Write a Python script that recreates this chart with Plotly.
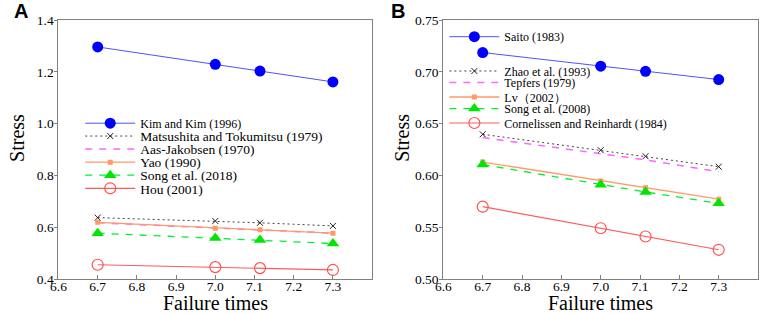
import plotly.graph_objects as go

# ---------------- data ----------------
x_fail = [6.7, 7.0, 7.114, 7.3]

# Panel A
names_a = ["Kim and Kim (1996)", "Matsushita and Tokumitsu (1979)", "Aas-Jakobsen (1970)",
           "Yao (1990)", "Song et al. (2018)", "Hou (2001)"]
kim = [1.296, 1.229, 1.203, 1.161]
matsushita = [0.637, 0.624, 0.617, 0.605]
aas = [0.617, 0.597, 0.589, 0.577]
yao = [0.619, 0.596, 0.590, 0.577]
song2018 = [0.577, 0.558, 0.551, 0.537]
hou = [0.455, 0.446, 0.442, 0.435]
vals_a = [kim, matsushita, aas, yao, song2018, hou]

# Panel B
names_b = ["Saito (1983)", "Zhao et al. (1993)", "Tepfers (1979)", "Lv\uff082002\uff09",
           "Song et al. (2008)", "Cornelissen and Reinhardt (1984)"]
saito = [0.7186, 0.7054, 0.7005, 0.6925]
zhao = [0.6397, 0.6243, 0.6185, 0.6084]
tepfers = [0.6365, 0.6210, 0.6150, 0.6035]
lv = [0.6129, 0.5946, 0.5880, 0.5770]
song2008 = [0.6105, 0.5910, 0.5840, 0.5730]
cornelissen = [0.5698, 0.5490, 0.5410, 0.5282]
vals_b = [saito, zhao, tepfers, lv, song2008, cornelissen]

xticks = [6.6, 6.7, 6.8, 6.9, 7.0, 7.1, 7.2, 7.3]
yticks_a = [0.4, 0.6, 0.8, 1.0, 1.2, 1.4]
yticks_b = [0.50, 0.55, 0.60, 0.65, 0.70, 0.75]

# ---------------- styles ----------------
styles = [
    dict(mode="lines+markers", line=dict(color="#5050ff", width=1),
         marker=dict(symbol="circle", size=11, color="#0000ff")),
    dict(mode="lines+markers", line=dict(color="#444444", width=1, dash="2px,3px"),
         marker=dict(symbol="x-thin", size=6, color="#222222", line=dict(width=1, color="#222222"))),
    dict(mode="lines", line=dict(color="#ff66ff", width=1.5, dash="7px,7px")),
    dict(mode="lines+markers", line=dict(color="#ff9a66", width=1.3),
         marker=dict(symbol="square", size=5, color="#ff9a66")),
    dict(mode="lines+markers", line=dict(color="#00ee33", width=1.3, dash="7px,7px"),
         marker=dict(symbol="triangle-up", size=11, color="#00e600")),
    dict(mode="lines+markers", line=dict(color="#ff5a5a", width=1.2),
         marker=dict(symbol="circle-open", size=11, color="#ff5050", line=dict(width=1.2))),
]

W, H = 761, 314
T, B = 20, 35
PH = H - T - B

fig = go.Figure()

legend_layouts = {}
leg_idx = 0

def add_panel(names, vals, xa, ya, leg_x, leg_rows, sizes, dy):
    global leg_idx
    for i, (nm, v) in enumerate(zip(names, vals)):
        leg_idx += 1
        lname = "legend" if leg_idx == 1 else f"legend{leg_idx}"
        fig.add_trace(go.Scatter(x=x_fail, y=v, name=nm, xaxis=xa, yaxis=ya,
                                 legend=lname, showlegend=True, **styles[i]))
        legend_layouts[lname] = dict(
            x=leg_x / W, xanchor="left",
            y=(H - B - leg_rows[i] + dy) / PH, yanchor="middle",
            bgcolor="rgba(0,0,0,0)", borderwidth=0, visible=True,
            font=dict(family="Liberation Serif", size=sizes[i], color="black"),
            itemwidth=50, tracegroupgap=0,
        )

rows_a = [124.7 + 13.06 * k for k in range(6)]
rows_b = [36.7, 71.0, 82.6, 97.0, 108.6, 123.0]
add_panel(names_a, vals_a, "x", "y", 73, rows_a, [12, 13.5, 13.5, 13.5, 13.5, 13.5], 1.5)
add_panel(names_b, vals_b, "x2", "y2", 441, rows_b, [12] * 6, 0)

axis_common = dict(showline=True, linecolor="#808080", linewidth=1.2, mirror=True,
                   showgrid=False, zeroline=False,
                   tickfont=dict(family="Liberation Serif", size=13.5, color="black"))

xaxis_common = dict(axis_common, range=[6.6, 7.4], tickvals=xticks,
                    ticktext=[f"{t:.1f}" for t in xticks],
                    ticks="inside", ticklen=4, tickcolor="#808080",
                    ticklabelstandoff=-5)

fig.update_layout(
    width=W, height=H,
    showlegend=True,
    margin=dict(l=0, r=0, t=T, b=B),
    paper_bgcolor="white", plot_bgcolor="white",
    xaxis=dict(xaxis_common, domain=[51 / W, 368 / W], anchor="y"),
    yaxis=dict(axis_common, domain=[0, 1], anchor="x", range=[0.4, 1.4],
               tickvals=yticks_a, ticktext=[f"{t:.1f}" for t in yticks_a],
               ticks="outside", ticklen=3, tickcolor="#808080", ticklabelstandoff=-2),
    xaxis2=dict(xaxis_common, domain=[440 / W, 758 / W], anchor="y2"),
    yaxis2=dict(axis_common, domain=[0, 1], anchor="x2", range=[0.5, 0.75],
                tickvals=yticks_b, ticktext=[f"{t:.2f}" for t in yticks_b],
                ticks="outside", ticklen=3, tickcolor="#808080", ticklabelstandoff=-2),
    **legend_layouts,
)

title_font = dict(family="Liberation Serif", size=20, color="black")
label_font = dict(family="Liberation Sans", size=20, color="black")
for xc in [(51 + 368) / 2, (440 + 758) / 2]:
    fig.add_annotation(xref="paper", yref="paper", showarrow=False, font=title_font,
                       text="Failure times", x=xc / W, y=-(303 - (H - B)) / PH,
                       xanchor="center", yanchor="middle")
for xc in [9, 398]:
    fig.add_annotation(xref="paper", yref="paper", showarrow=False, font=title_font,
                       text="Stress", textangle=-90, x=xc / W, y=(H - B - 138) / PH,
                       xanchor="center", yanchor="middle")
fig.add_annotation(xref="paper", yref="paper", showarrow=False, font=label_font,
                   text="<b>A</b>", x=13 / W, y=(H - B - 11) / PH, xanchor="center", yanchor="middle")
fig.add_annotation(xref="paper", yref="paper", showarrow=False, font=label_font,
                   text="<b>B</b>", x=394 / W, y=(H - B - 11) / PH, xanchor="center", yanchor="middle")

fig.write_html("out.html", config={"displayModeBar": False},
               post_script="document.body.style.margin='0px';")
